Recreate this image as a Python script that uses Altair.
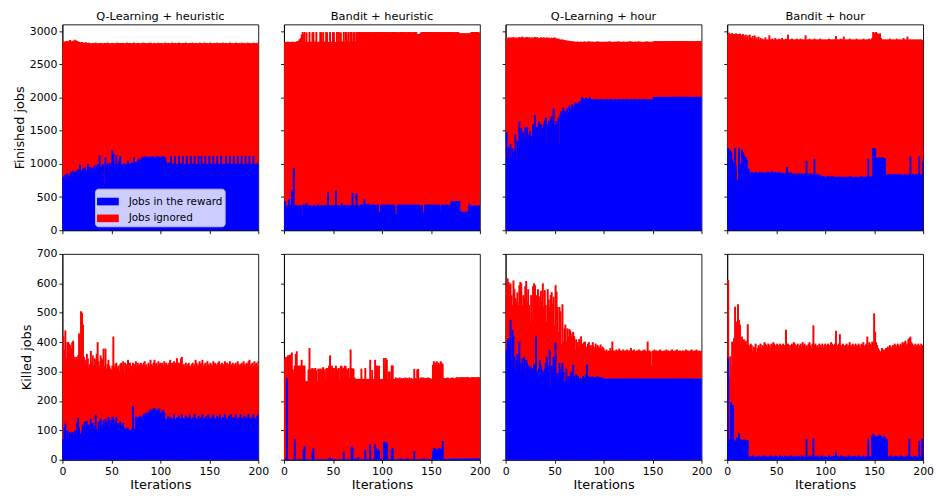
import altair as alt
import pandas as pd

# ---------------- data ----------------
methods = ["Q-Learning + heuristic", "Bandit + heuristic", "Q-Learning + hour", "Bandit + hour"]
series_names = ["Jobs in the reward", "Jobs ignored"]
x_ticks = [0, 50, 100, 150, 200]
fin_ticks = [0, 500, 1000, 1500, 2000, 2500, 3000]
kill_ticks = [0, 100, 200, 300, 400, 500, 600, 700]

# Finished jobs: reward part and total (reward + ignored)
qh_fin_reward = [
    810,800,840,780,860,820,760,850,880,870,900,860,880,890,850,920,870,990,900,880,
    930,880,950,870,900,1000,880,960,930,890,950,900,980,920,960,1000,950,1130,920,970,
    1000,980,700,1100,950,1000,920,1020,980,1000,1210,1150,970,1010,1130,960,1000,1050,1120,960,
    990,1000,1010,960,1000,990,1050,1000,1010,1000,1020,990,1100,1010,1030,1000,1050,1080,1020,1060,
    1100,1080,1110,1100,1120,1090,1100,1110,1080,1110,1100,1120,1090,1110,1100,1080,1120,1100,1110,1090,
    1110,1100,1120,1080,1100,1040,1010,1000,1020,1000,1120,990,1000,1010,1120,1000,990,1000,1120,1000,
    1010,1000,1120,990,1000,1000,1120,1010,1000,990,1120,1000,1000,1010,1120,990,1000,1000,1120,1000,
    990,1120,1000,1010,1000,1120,990,1000,1000,1120,1010,1000,990,1120,1000,1000,1010,1120,990,1000,
    1000,1120,1010,1000,990,1000,1120,1000,1010,1000,1120,990,1000,1000,1120,1010,1000,990,1120,1000,
    1000,1010,1120,1000,990,1000,1120,1010,1000,1000,1120,990,1000,1010,1120,1000,1000,990,1010,1020,
]
qh_fin_total = [
    2850,2840,2845,2855,2850,2845,2860,2870,2850,2845,2860,2850,2875,2860,2855,2845,2840,2835,2830,2840,
    2825,2830,2820,2835,2825,2820,2830,2820,2815,2820,2825,2820,2820,2830,2820,2815,2820,2825,2820,2820,
    2820,2815,2825,2820,2820,2830,2820,2820,2815,2820,2825,2820,2820,2815,2820,2830,2820,2820,2825,2820,
    2820,2825,2820,2815,2820,2830,2820,2820,2825,2815,2820,2820,2830,2820,2815,2820,2825,2820,2820,2815,
    2820,2830,2820,2825,2815,2820,2820,2825,2820,2830,2820,2815,2820,2825,2820,2820,2815,2830,2820,2820,
    2825,2820,2815,2820,2830,2820,2820,2825,2820,2815,2820,2830,2820,2820,2825,2815,2820,2820,2830,2820,
    2820,2815,2825,2820,2820,2830,2820,2815,2820,2825,2820,2820,2830,2815,2820,2825,2820,2820,2815,2830,
    2820,2825,2820,2815,2830,2820,2820,2825,2815,2820,2830,2820,2820,2815,2825,2820,2820,2830,2820,2815,
    2825,2820,2820,2830,2815,2820,2825,2820,2820,2815,2830,2820,2825,2820,2815,2820,2830,2820,2820,2825,
    2820,2815,2830,2820,2820,2825,2815,2820,2830,2820,2825,2820,2815,2820,2830,2820,2820,2825,2815,2830,
]
bh_fin_reward = [
    440,300,360,380,465,370,380,600,340,940,370,380,365,375,360,380,370,375,215,390,
    370,385,410,375,360,380,370,330,375,365,380,370,360,375,390,370,365,380,370,375,
    380,365,375,370,575,380,370,360,375,330,375,380,600,370,365,380,375,360,410,375,
    370,380,320,375,380,360,380,375,370,565,380,370,365,560,380,375,370,380,390,380,
    390,465,400,380,390,400,370,385,390,380,375,390,380,370,385,390,280,280,370,390,
    385,390,375,380,390,370,385,390,380,375,390,385,370,240,245,380,390,385,370,390,
    380,375,390,385,370,390,380,385,375,390,385,380,370,390,385,380,375,390,370,265,
    380,265,270,390,265,380,390,385,370,390,380,385,370,390,385,380,375,390,370,260,
    380,390,385,370,380,390,385,375,380,390,440,440,440,440,440,440,440,440,440,280,
    280,280,280,280,280,280,280,280,400,370,370,370,370,370,370,370,370,370,370,380,
]
bh_fin_total = [
    2840,2835,2840,2845,2835,2840,2835,2840,2845,2840,2835,2840,2850,2845,2860,2880,2900,2950,2990,2960,
    2990,2840,2985,2840,2840,2990,2845,2840,2985,2990,2840,2845,2990,2840,2840,2845,2990,2985,2840,2990,
    2845,2840,2990,2985,2840,2840,2990,2845,2840,2990,2985,2840,2840,2990,2845,2990,2840,2985,2840,2845,
    2990,2840,2990,2985,2850,2990,2845,2990,2990,2850,2985,2990,2850,2990,2985,2990,2990,2985,2990,2990,
    2990,2985,2990,2980,2990,2990,2985,2990,2975,2990,2990,2985,2990,2990,2980,2990,2985,2990,2990,2985,
    2990,2975,2990,2990,2985,2990,2990,2980,2990,2985,2990,2990,2985,2990,2990,2985,2990,2980,2990,2990,
    2985,2990,2990,2980,2990,2985,2990,2990,2985,2990,2980,2990,2985,2990,2990,2960,2960,2960,2965,2985,
    2990,2985,2990,2990,2980,2990,2985,2990,2990,2985,2990,2990,2980,2990,2985,2990,2990,2985,2990,2990,
    2985,2990,2990,2980,2990,2985,2990,2990,2985,2990,2990,2985,2990,2990,2980,2990,2985,2990,2970,2970,
    2970,2970,2970,2970,2970,2970,2970,2970,2970,2970,2985,2990,2985,2990,2990,2985,2990,2990,2985,2975,
]
qhr_fin_reward = [
    1480,1100,1250,1050,1300,1100,1240,1150,1200,1450,1100,1350,1250,1640,1400,1540,1350,1480,1380,1550,
    1400,1560,1340,1450,1500,1240,1420,1600,1380,1740,1500,1560,1450,1640,1520,1600,1460,1550,1600,1660,
    1700,1340,1600,1650,1580,1680,1720,1620,1840,1600,1590,1650,1600,1700,1300,1750,1800,1740,1850,1780,
    1800,1760,1840,1790,1880,1800,1850,1900,1820,1870,1930,1880,1920,1900,1940,1910,1950,2010,1990,1960,
    1980,2000,1970,1990,1975,2010,1970,1980,1960,1975,1970,1980,1975,1970,1965,1975,1970,1980,1975,1970,
    1975,1970,1980,1975,1970,1975,1980,1970,1975,1970,1975,1980,1970,1975,1970,1980,1975,1970,1975,1980,
    1970,1975,1980,1975,1970,1975,1970,1980,1975,1970,1975,1980,1970,1975,1970,1980,1975,1970,1975,1980,
    1975,1970,1980,1975,1970,1975,1980,1970,1975,1970,2010,2010,2015,2010,2010,2015,2010,2010,2015,2010,
    2010,2015,2010,2010,2015,2010,2010,2015,2010,2010,2015,2010,2010,2015,2010,2010,2015,2010,2010,2015,
    2010,2015,2010,2010,2015,2010,2010,2015,2010,2010,2015,2010,2010,2015,2010,2010,2015,2010,2010,2015,
]
qhr_fin_total = [
    2900,2890,2910,2905,2895,2910,2900,2915,2905,2900,2910,2895,2905,2915,2900,2910,2920,2905,2900,2910,
    2905,2915,2900,2910,2905,2895,2910,2900,2905,2915,2900,2910,2905,2900,2895,2910,2905,2900,2910,2895,
    2900,2910,2895,2905,2900,2890,2905,2895,2900,2910,2890,2895,2885,2890,2880,2875,2870,2880,2865,2870,
    2860,2865,2855,2860,2850,2855,2850,2845,2850,2845,2840,2845,2840,2845,2840,2840,2845,2840,2840,2845,
    2845,2840,2845,2840,2850,2840,2845,2840,2845,2840,2840,2845,2840,2850,2840,2845,2840,2840,2845,2840,
    2840,2845,2840,2845,2840,2850,2840,2845,2840,2840,2845,2840,2845,2840,2850,2840,2845,2840,2840,2845,
    2845,2840,2840,2845,2840,2845,2850,2840,2845,2840,2840,2845,2840,2845,2840,2850,2840,2845,2840,2840,
    2840,2845,2840,2850,2840,2845,2840,2840,2845,2840,2850,2850,2855,2850,2850,2855,2850,2850,2855,2850,
    2850,2855,2850,2850,2855,2850,2850,2855,2850,2850,2855,2850,2850,2855,2850,2850,2855,2850,2850,2855,
    2850,2850,2855,2850,2850,2855,2850,2850,2855,2850,2850,2855,2850,2850,2855,2850,2850,2855,2850,2850,
]
bhr_fin_reward = [
    1240,740,1210,1180,1080,1020,1000,1240,980,750,760,1240,720,1000,1215,1180,1140,1110,1090,1065,
    940,930,870,860,880,850,870,860,880,870,850,870,880,860,870,880,860,870,850,880,
    870,880,860,870,880,900,870,860,880,870,860,870,880,860,850,870,860,850,860,850,
    955,880,860,850,870,860,840,850,860,850,840,850,860,840,850,860,850,840,850,860,
    1050,850,840,850,860,840,850,830,1080,840,830,850,820,840,830,810,800,820,810,800,
    810,800,820,790,810,800,820,790,810,800,790,810,800,780,810,790,800,810,790,800,
    810,800,790,810,800,820,790,800,810,790,800,810,800,790,810,800,820,800,790,810,
    800,810,800,1080,800,810,790,820,1240,1240,1230,1100,1090,1080,1100,1090,1080,1100,1090,1080,
    1090,840,830,840,850,830,840,850,830,840,850,830,840,850,830,840,850,830,840,830,
    840,850,830,840,830,850,1115,840,830,850,840,830,850,840,830,1115,840,830,850,1040,
]
bhr_fin_total = [
    2950,2980,2960,2940,2975,2950,2960,2880,2970,2940,2960,2900,2965,2950,2930,2960,2940,2910,2950,2900,
    2940,2870,2950,2910,2900,2930,2880,2940,2890,2910,2880,2920,2870,2900,2880,2890,2870,2880,2910,2870,
    2880,2870,2940,2880,2870,2890,2880,2870,2900,2880,2870,2880,2890,2870,2880,2900,2870,2880,2870,2890,
    2880,2950,2870,2880,2870,2890,2880,2870,2880,2870,2890,2880,2870,2880,2890,2870,2880,2870,2880,2940,
    2870,2880,2870,2890,2880,2870,2880,2870,2890,2880,2870,2880,2870,2880,2890,2870,2880,2870,2880,2870,
    2880,2870,2880,2890,2870,2880,2870,2880,2870,2880,2930,2870,2880,2870,2880,2890,2870,2880,2920,2870,
    2880,2870,2880,2870,2890,2880,2870,2880,2870,2880,2870,2890,2880,2870,2880,2870,2880,2870,2890,2880,
    2870,2880,2870,2880,2890,2870,2880,2900,2990,2980,2975,2990,2970,2965,2950,2970,2900,2880,2870,2880,
    2870,2880,2870,2880,2870,2890,2880,2870,2880,2870,2880,2870,2890,2880,2870,2880,2870,2880,2870,2900,
    2880,2870,2880,2920,2870,2880,2870,2880,2870,2880,2870,2880,2870,2880,2870,2880,2870,2880,2870,2870,
]

# Killed jobs: reward part and total (reward + ignored)
qh_kill_reward = [
    70,110,123,67,100,80,95,92,90,95,70,92,100,68,126,143,110,67,90,100,
    120,110,130,100,132,110,120,100,140,105,125,110,115,154,105,95,130,110,140,120,
    110,135,120,140,130,120,145,110,135,125,147,140,120,130,145,110,125,120,130,115,
    120,125,110,105,100,107,110,102,100,98,105,183,100,105,147,145,140,145,150,140,
    145,150,155,148,160,158,150,165,160,171,165,170,175,177,170,165,172,168,175,160,
    158,165,170,160,135,140,138,150,140,145,140,138,142,155,140,138,145,140,150,140,
    140,155,138,142,140,150,138,145,140,155,140,138,145,140,155,142,138,140,150,140,
    145,140,155,138,142,140,150,140,155,138,140,145,140,155,142,138,140,150,145,140,
    155,140,138,145,140,155,142,138,140,150,140,155,138,145,140,142,155,140,138,145,
    140,155,138,142,140,150,138,145,140,155,140,138,145,140,155,142,138,140,150,155,
]
qh_kill_total = [
    420,375,440,345,400,400,395,390,380,400,405,350,340,350,345,355,430,370,505,500,
    460,350,340,330,360,345,310,325,370,330,355,320,345,340,360,400,335,320,355,345,
    340,378,320,378,310,325,340,320,310,305,320,419,315,325,330,310,320,300,325,330,
    320,335,295,330,320,325,340,315,330,320,300,330,320,325,335,315,330,320,325,330,
    325,320,330,335,320,325,315,330,320,340,325,320,330,340,325,330,320,335,325,330,
    325,330,320,335,325,330,320,325,330,340,325,330,320,335,325,330,345,325,330,320,
    345,350,320,325,315,330,320,325,330,320,315,325,330,320,325,340,330,320,325,335,
    325,330,340,320,325,330,320,335,325,320,330,325,320,335,325,330,320,325,330,335,
    325,320,330,325,320,335,325,330,320,325,335,320,325,330,320,325,330,320,335,325,
    320,325,330,320,335,325,320,330,325,335,340,320,325,330,320,335,325,330,320,335,
]
bh_kill_reward = [
    0,5,278,3,0,2,0,0,3,0,70,2,0,3,0,2,0,3,0,35,
    47,3,0,2,0,3,0,0,25,40,3,0,2,0,3,0,2,0,3,0,
    2,0,3,0,2,5,8,5,3,0,2,3,0,2,0,3,0,2,0,3,
    28,2,0,3,0,2,3,0,47,40,3,0,5,2,3,10,0,2,3,0,
    2,3,34,0,2,3,0,53,2,0,3,2,53,40,30,35,30,2,3,0,
    2,61,61,60,58,3,2,0,3,36,40,3,2,0,3,2,0,3,5,2,
    3,2,0,3,2,5,3,0,2,3,0,2,30,3,2,0,3,2,0,3,
    2,3,5,0,3,2,0,3,2,0,3,30,40,35,38,30,35,40,36,38,
    35,64,5,3,2,3,2,3,3,4,4,4,4,4,4,4,4,4,4,4,
    4,4,4,4,4,4,4,4,4,4,4,4,4,4,4,4,4,4,4,4,
]
bh_kill_total = [
    345,350,320,355,355,357,357,365,307,295,320,360,369,320,320,320,320,340,320,320,
    320,267,267,267,307,380,307,310,312,307,310,312,305,267,310,307,310,305,310,315,
    307,280,310,312,312,320,355,280,320,312,312,280,320,310,307,312,275,320,318,310,
    312,320,318,308,306,312,280,375,312,310,310,280,275,275,275,275,275,275,310,275,
    275,275,312,275,275,275,275,340,275,305,275,275,340,320,320,275,320,275,275,275,
    275,346,312,346,340,275,300,300,275,321,321,275,275,280,275,278,275,280,275,278,
    275,278,275,280,275,278,275,280,275,278,275,275,309,278,275,307,309,275,278,280,
    275,280,278,275,278,275,280,275,278,275,275,323,335,323,330,335,323,330,323,335,
    330,325,278,278,275,278,280,278,275,278,278,280,278,275,278,280,281,280,278,281,
    281,280,281,278,281,280,281,281,280,278,280,281,280,281,278,281,280,281,280,281,
]
qhr_kill_reward = [
    374,408,414,400,476,340,442,420,350,307,340,360,330,402,300,330,345,310,350,278,
    340,330,310,320,300,315,310,290,325,310,419,300,290,310,340,320,305,290,300,310,
    330,350,320,300,374,248,320,300,350,340,399,290,295,278,330,310,290,330,300,267,
    267,310,267,285,267,285,300,280,324,285,267,290,280,285,270,278,267,275,285,280,
    278,290,324,285,280,282,278,284,280,278,282,280,278,284,280,278,282,280,278,276,
    276,275,277,276,275,276,277,275,276,275,277,276,275,276,277,275,276,275,277,276,
    275,276,277,275,276,275,277,276,275,276,277,275,276,275,277,276,275,276,277,275,
    276,275,277,276,275,276,277,275,276,275,277,276,275,276,277,275,276,275,277,276,
    275,276,277,275,276,275,277,276,275,276,277,275,276,275,277,276,275,276,277,275,
    276,275,277,276,275,276,277,275,276,275,277,276,275,276,277,275,276,275,277,276,
]
qhr_kill_total = [
    595,617,605,595,600,560,526,610,580,550,538,570,526,594,605,600,526,560,550,590,
    608,540,580,526,470,560,480,590,600,594,560,540,580,556,520,575,540,600,520,577,
    526,470,580,545,520,560,570,530,555,459,594,572,520,436,520,505,393,529,402,447,
    460,402,447,420,445,440,420,430,435,420,374,410,400,385,410,390,420,395,380,400,
    402,385,380,395,400,385,390,380,400,385,380,395,380,390,385,380,392,378,385,380,
    372,370,375,368,372,370,380,372,402,370,372,368,375,370,372,378,370,372,368,375,
    370,372,368,375,370,372,368,380,370,372,375,370,368,372,370,375,372,370,368,372,
    372,375,370,368,402,370,372,368,323,370,372,375,370,372,368,370,372,375,370,368,
    370,372,368,375,370,372,368,370,372,375,370,368,372,370,375,368,370,372,370,368,
    372,370,368,375,370,372,368,370,372,375,370,368,372,370,375,368,370,372,370,368,
]
bhr_kill_reward = [
    346,70,70,197,70,186,70,65,59,75,70,90,72,70,66,64,70,68,65,67,
    67,8,10,12,8,15,10,8,12,9,10,14,8,10,12,8,15,10,12,8,
    10,12,8,15,10,12,8,10,14,8,12,10,8,15,10,12,8,10,14,12,
    10,8,12,10,15,8,10,12,8,10,14,8,12,10,8,15,10,12,8,10,
    72,10,12,8,15,10,8,73,10,12,8,14,10,8,12,10,15,8,10,12,
    10,8,12,15,10,8,12,10,14,8,27,10,12,8,10,15,8,12,10,8,
    12,10,8,15,10,12,8,10,14,8,12,10,8,15,10,12,8,10,14,8,
    10,12,8,72,10,12,8,80,87,85,75,80,70,82,78,85,80,75,70,80,
    78,72,70,10,12,8,15,10,8,12,10,14,8,12,10,8,15,10,12,8,
    10,12,8,15,10,72,10,12,8,10,14,8,12,10,8,64,10,12,72,10,
]
bhr_kill_total = [
    611,281,352,318,402,400,414,521,453,470,529,476,460,391,419,405,410,400,405,395,
    461,391,385,395,390,370,385,380,395,365,380,390,385,395,380,390,385,400,395,390,
    385,395,390,380,395,390,400,395,385,390,395,390,380,395,390,385,395,390,385,442,
    390,395,385,390,380,395,390,400,395,385,390,395,380,390,395,385,400,390,395,385,
    390,385,395,400,390,380,395,457,390,395,385,390,380,395,390,385,395,380,390,395,
    385,390,395,385,390,400,395,385,390,395,439,390,385,395,427,390,385,395,390,385,
    390,395,385,390,400,390,385,395,390,385,395,390,385,395,390,380,395,390,400,385,
    390,395,419,390,400,395,390,402,398,498,436,400,390,380,374,369,363,380,375,370,
    375,380,378,385,380,390,385,380,390,385,395,390,385,395,390,385,395,390,400,395,
    400,405,390,395,410,414,419,400,395,390,385,395,390,385,395,390,385,395,390,385,
]

finished = [(qh_fin_reward, qh_fin_total), (bh_fin_reward, bh_fin_total),
            (qhr_fin_reward, qhr_fin_total), (bhr_fin_reward, bhr_fin_total)]
killed = [(qh_kill_reward, qh_kill_total), (bh_kill_reward, bh_kill_total),
          (qhr_kill_reward, qhr_kill_total), (bhr_kill_reward, bhr_kill_total)]

# ---------------- chart ----------------
FONT = "DejaVu Sans"
W, H = 198, 208
OVERLAP = 1.0  # overlap between neighbouring bars to avoid anti-aliasing seams


def make_frame(reward, total):
    n = min(len(reward), len(total))
    ignored_rows = [{"it": i, "it2": min(i + 1 + OVERLAP, 200), "series": "Jobs ignored",
                     "lo": reward[i], "hi": total[i]} for i in range(n)]
    reward_rows = [{"it": i, "it2": min(i + 1 + OVERLAP, 200), "series": "Jobs in the reward",
                    "lo": 0, "hi": reward[i]} for i in range(n)]
    return pd.DataFrame(ignored_rows + reward_rows)


color = alt.Color(
    "series:N",
    scale=alt.Scale(domain=series_names, range=["#0000ff", "#ff0000"]),
    legend=alt.Legend(
        title=None, orient="none", legendX=33, legendY=166,
        symbolType="M-1,-0.35H1V0.35H-1Z", symbolSize=484, symbolStrokeWidth=0,
        labelFont=FONT, labelFontSize=10.5, labelColor="black", labelOffset=10,
        fillColor="#ccccff", strokeColor="#b8b8e6", cornerRadius=3,
        padding=2, rowPadding=-2, symbolOpacity=1,
    ),
)


def panel(reward, total, col, row):
    top = row == 0
    ymax = 3104 if top else 700
    yticks = fin_ticks if top else kill_ticks
    ytitle = ("Finished jobs" if top else "Killed jobs") if col == 0 else None
    ch = alt.Chart(make_frame(reward, total)).mark_rect(strokeWidth=0).encode(
        x=alt.X("it:Q", scale=alt.Scale(domain=[0, 200], nice=False, zero=False, padding=0),
                axis=alt.Axis(values=x_ticks, labels=not top, title=None if top else "Iterations",
                              format="d", labelFlush=False)),
        x2="it2:Q",
        y=alt.Y("lo:Q", scale=alt.Scale(domain=[0, ymax], nice=False, padding=0),
                axis=alt.Axis(values=yticks, labels=col == 0, title=ytitle, format="d",
                              labelFlush=False)),
        y2="hi:Q",
        color=color,
    ).properties(width=W, height=H)
    if top:
        ch = ch.properties(title=alt.TitleParams(methods[col]))
    return ch


top_row = alt.hconcat(*[panel(r, t, c, 0) for c, (r, t) in enumerate(finished)],
                      spacing=26, bounds="flush")
bottom_row = alt.hconcat(*[panel(r, t, c, 1) for c, (r, t) in enumerate(killed)],
                         spacing=26, bounds="flush")

chart = alt.vconcat(top_row, bottom_row, spacing=11).configure_view(
    stroke="black", strokeWidth=0.9
).configure_axis(
    grid=False, domainColor="black", domainWidth=0.9, tickColor="black", tickWidth=0.9,
    tickSize=3.5, labelFont=FONT, labelFontSize=11, labelColor="black", labelPadding=2,
    titleFont=FONT, titleFontSize=13, titleFontWeight="normal", titleColor="black",
    titlePadding=3,
).configure_title(
    font=FONT, fontSize=11.5, fontWeight="normal", color="black", offset=2, anchor="middle",
).properties(padding={"left": 5, "top": 0, "right": 0, "bottom": 0})

chart.save("out.html", embed_options={"renderer": "svg", "actions": False})
